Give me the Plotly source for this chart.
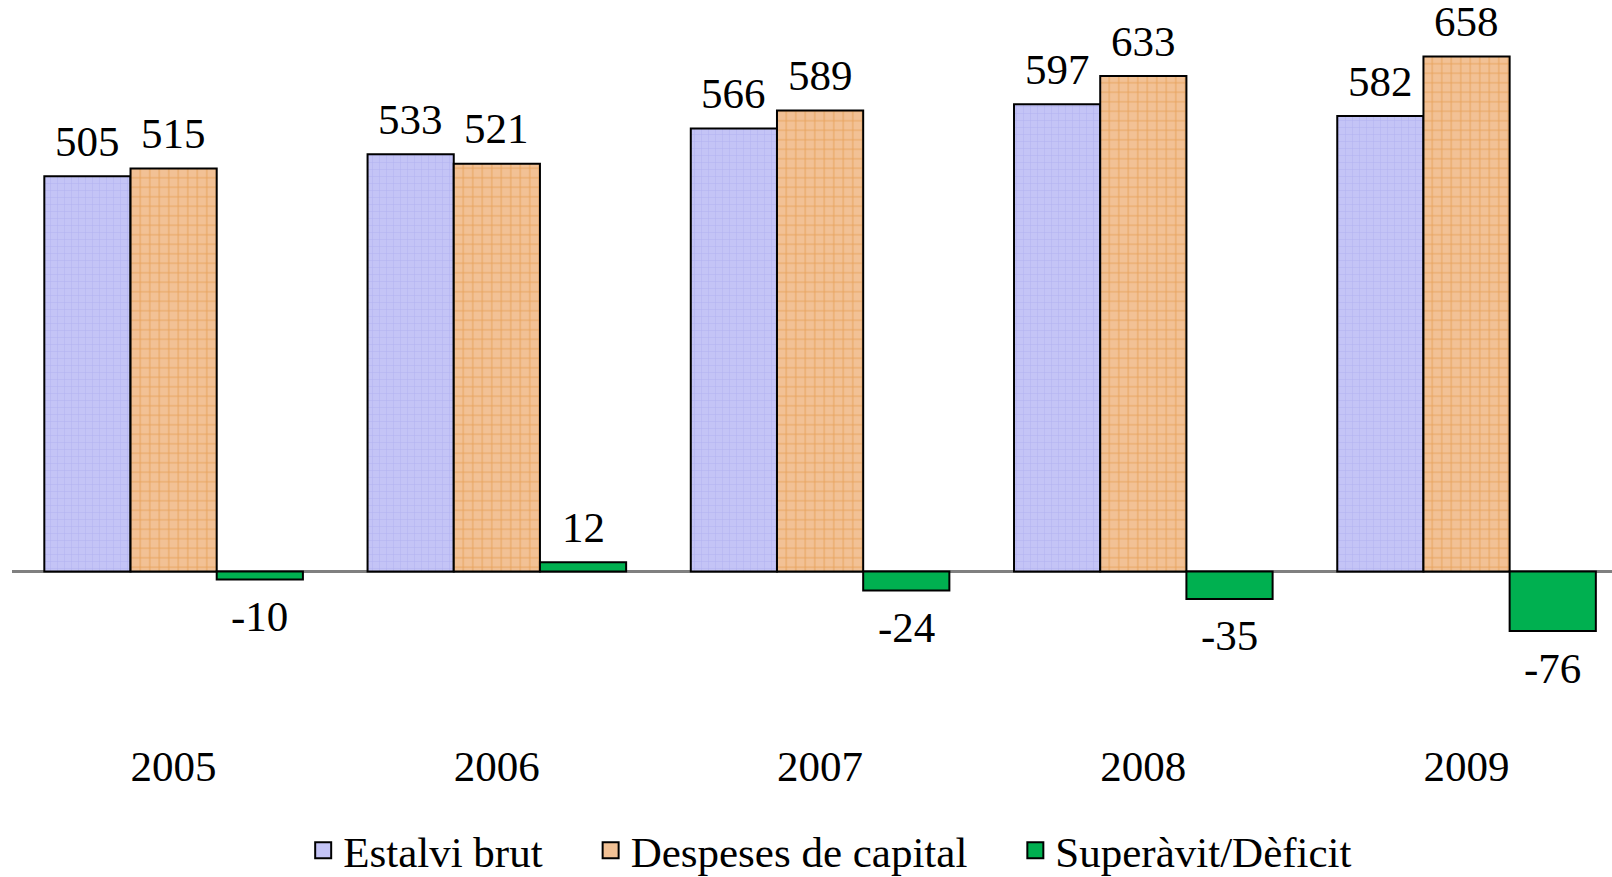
import plotly.graph_objects as go

years = ["2005", "2006", "2007", "2008", "2009"]
estalvi = [505, 533, 566, 597, 582]
despeses = [515, 521, 589, 633, 658]
saldo = [-10, 12, -24, -35, -76]
names = ["Estalvi brut", "Despeses de capital", "Superàvit/Dèficit"]

FONT = "Liberation Serif, Times New Roman, serif"
FS = 43
COL_E = ("#c4c4f6", "#a0a0ea")
COL_D = ("#f2c195", "#de8528")
COL_S = "#00b050"

fig = go.Figure()
fig.add_trace(go.Bar(
    x=years, y=estalvi, name=names[0], showlegend=False,
    marker=dict(color=COL_E[0], line=dict(color="black", width=2),
                pattern=dict(shape="+", bgcolor=COL_E[0], fgcolor=COL_E[1], size=7, solidity=0.15)),
))
fig.add_trace(go.Bar(
    x=years, y=despeses, name=names[1], showlegend=False,
    marker=dict(color=COL_D[0], line=dict(color="black", width=2),
                pattern=dict(shape="+", bgcolor=COL_D[0], fgcolor=COL_D[1], size=9.5, solidity=0.2)),
))
fig.add_trace(go.Bar(
    x=years, y=saldo, name=names[2], showlegend=False,
    marker=dict(color=COL_S, line=dict(color="black", width=2)),
))

# legend entries with square symbols
pad = "\u00a0" * 4
for nm, col, last in [(names[0], COL_E[0], False), (names[1], COL_D[0], False), (names[2], COL_S, True)]:
    fig.add_trace(go.Scatter(
        x=[years[0]], y=[None], mode="markers", name=nm + ("" if last else pad),
        marker=dict(symbol="square", size=24, color=col, line=dict(color="black", width=2)),
        hoverinfo="skip",
    ))

bw = 0.8 / 3
annotations = []
for j, series in enumerate([estalvi, despeses, saldo]):
    for i, v in enumerate(series):
        annotations.append(dict(
            x=i + (j - 1) * bw, y=v, xref="x", yref="y",
            text=str(v), showarrow=False,
            yanchor="middle", yshift=35 if v >= 0 else -37,
            font=dict(family=FONT, size=FS, color="black"),
        ))

fig.update_layout(
    width=1612, height=877,
    margin=dict(l=0, r=0, t=0, b=0, autoexpand=False),
    paper_bgcolor="white", plot_bgcolor="white",
    barmode="group", bargap=0.2, bargroupgap=0,
    font=dict(family=FONT, size=FS, color="black"),
    showlegend=True,
    legend=dict(orientation="h", x=0.515, xanchor="center", y=-0.009, yanchor="bottom",
                font=dict(family=FONT, size=FS, color="black"),
                itemsizing="trace", traceorder="normal", bgcolor="rgba(0,0,0,0)"),
    annotations=annotations,
    xaxis=dict(type="category", range=[-0.5, 4.45], domain=[12 / 1612, 1],
               showline=False, showgrid=False, automargin=False,
               ticks="", tickfont=dict(family=FONT, size=FS, color="black")),
    yaxis=dict(range=[-211.3, 679.1], domain=[140 / 877, 1 - 40 / 877],
               showgrid=False, showticklabels=False, ticks="", automargin=False,
               zeroline=True, zerolinecolor="#808080", zerolinewidth=2.5, showline=False),
)

fig.write_html("out.html", config={"displayModeBar": False},
               post_script="document.body.style.margin='0px';")
